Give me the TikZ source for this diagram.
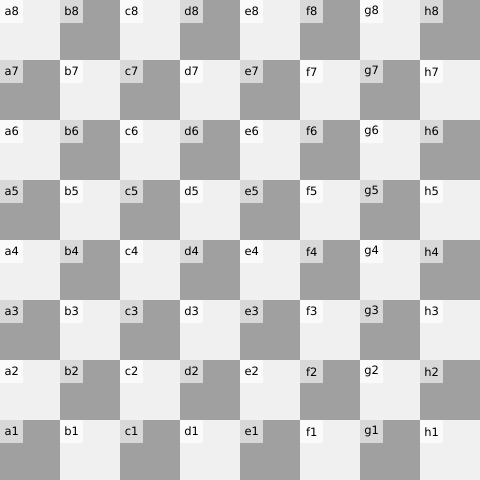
\documentclass[tikz,border=0pt]{standalone}
\usepackage{fontspec}
\setmainfont{DejaVu Sans}
\definecolor{lightsq}{HTML}{F0F0F0}
\definecolor{darksq}{HTML}{A0A0A0}
\definecolor{lightlab}{HTML}{FAFAFA}
\definecolor{darklab}{HTML}{D8D8D8}
\tikzset{
  lab/.style={inner sep=0pt, minimum width=23pt, minimum height=23pt, anchor=north west, font=\fontsize{11.5}{11.5}\selectfont, text=black},
}
\begin{document}
\begin{tikzpicture}[x=1pt,y=1pt]
\useasboundingbox (0,0) rectangle (480,480);
\foreach \f [count=\i from 0] in {a,b,c,d,e,f,g,h}{
  \foreach \r in {1,...,8}{
    \pgfmathtruncatemacro{\sqpar}{mod(\i+\r,2)}
    \ifnum\sqpar=0
      \fill[lightsq] (\i*60,\r*60-60) rectangle ++(60,60);
      \node[lab, fill=lightlab] (sq\f\r) at (\i*60,\r*60) {\f\r};
    \else
      \fill[darksq] (\i*60,\r*60-60) rectangle ++(60,60);
      \node[lab, fill=darklab] (sq\f\r) at (\i*60,\r*60) {\f\r};
    \fi
  }
}
\end{tikzpicture}
\end{document}
